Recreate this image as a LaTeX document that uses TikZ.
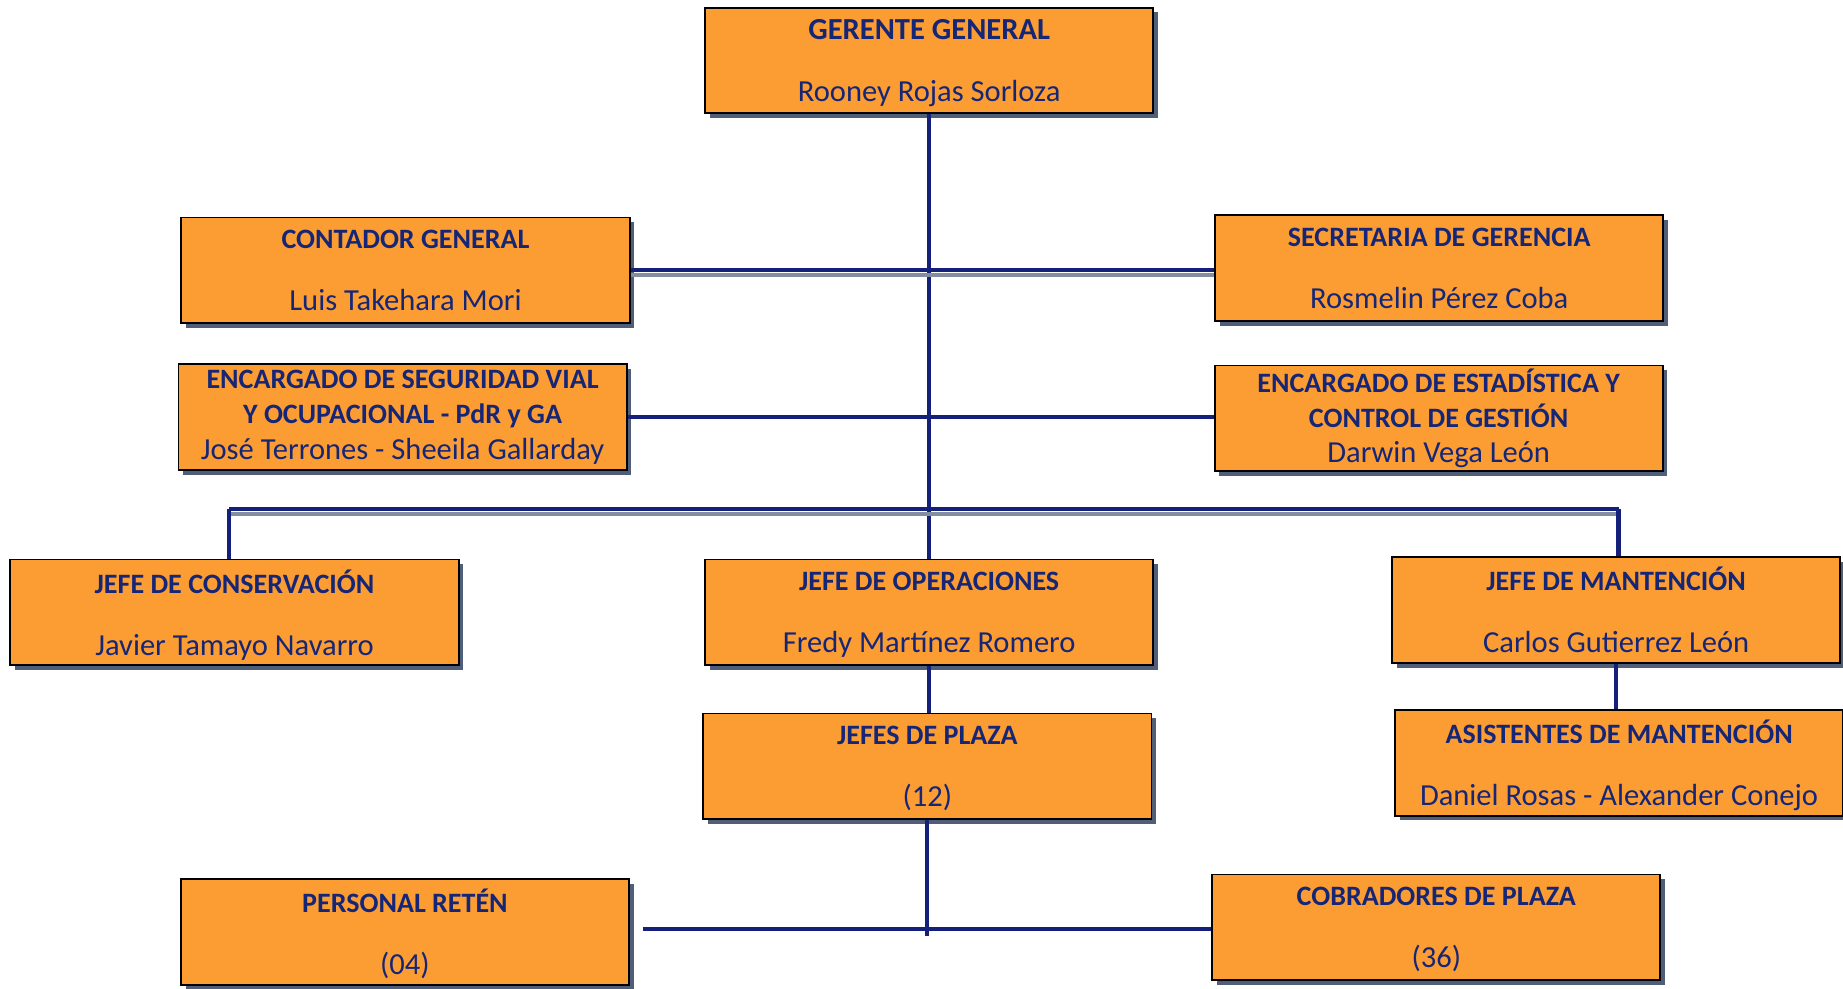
\documentclass[tikz,border=0pt]{standalone}
\usepackage{fontspec}
\setmainfont{Carlito}
\usetikzlibrary{shadows}

\definecolor{naranja}{RGB}{252,157,51}
\definecolor{azultexto}{RGB}{22,38,118}
\definecolor{azullinea}{RGB}{20,32,122}
\definecolor{sombra}{RGB}{48,66,98}

\tikzset{every picture/.style={line width=0.75pt}}
\tikzset{
  cargo/.style={draw=black, line width=1.2pt, fill=naranja, text=azultexto, align=center,
    minimum width=286pt, minimum height=67.5pt, inner sep=0pt,
    font=\fontsize{19.5}{22.5}\selectfont,
    drop shadow={shadow xshift=3pt, shadow yshift=-3pt, fill=sombra, opacity=0.85}},
  enlace/.style={draw=azullinea, line width=2.6pt},
  enlacesombra/.style={enlace, preaction={draw=sombra!60, line width=2.6pt, transform canvas={yshift=-3pt}}},
}
\newcommand{\titulo}[1]{{\fontsize{17.9}{22.5}\selectfont\bfseries #1}}
\newcommand{\dosl}[2]{\titulo{#1}\\[17pt]\raisebox{0pt}[\height][0pt]{#2}}
\newcommand{\tresl}[3]{\titulo{#1}\\\titulo{#2}\\#3}

\begin{document}
\begin{tikzpicture}[x=0.75pt,y=0.75pt,yscale=-1,xscale=1]
\useasboundingbox (0,0) rectangle (1568,841);

% Text Node
\draw (790.5,51.5) node [cargo] (gerente) {\textbf{GERENTE GENERAL}\\[17pt]\raisebox{0pt}[\height][0pt]{Rooney Rojas Sorloza}};
% Text Node
\draw (345,230) node [cargo] (contador) {\dosl{CONTADOR GENERAL}{Luis Takehara Mori}};
% Text Node
\draw (1224.5,228) node [cargo] (secretaria) {\dosl{SECRETARIA DE GERENCIA}{Rosmelin Pérez Coba}};
% Text Node
\draw (342.5,355) node [cargo] (seguridad) {\tresl{ENCARGADO DE SEGURIDAD VIAL}{Y OCUPACIONAL - PdR y GA}{José Terrones - Sheeila Gallarday}};
% Text Node
\draw (1224,356) node [cargo] (estadistica) {\tresl{ENCARGADO DE ESTADÍSTICA Y}{CONTROL DE GESTIÓN}{Darwin Vega León}};
% Text Node
\draw (199.5,521) node [cargo] (conservacion) {\dosl{JEFE DE CONSERVACIÓN}{Javier Tamayo Navarro}};
% Text Node
\draw (790.5,521) node [cargo] (operaciones) {\dosl{JEFE DE OPERACIONES}{Fredy Martínez Romero}};
% Text Node
\draw (1375,519) node [cargo] (mantencion) {\dosl{JEFE DE MANTENCIÓN}{Carlos Gutierrez León}};
% Text Node
\draw (789,652) node [cargo] (plaza) {\dosl{JEFES DE PLAZA}{(12)}};
% Text Node
\draw (1377.5,649) node [cargo] (asistentes) {\dosl{ASISTENTES DE MANTENCIÓN}{Daniel Rosas - Alexander Conejo}};
% Text Node
\draw (344.5,793) node [cargo] (reten) {\dosl{PERSONAL RETÉN}{(04)}};
% Text Node
\draw (1222,789) node [cargo] (cobradores) {\dosl{COBRADORES DE PLAZA}{(36)}};

\coordinate (busizq) at (195,433);
\coordinate (busder) at (1377,433);
\coordinate (busbajo) at (790,790);
\coordinate (busbajofin) at (790,796);

%Straight Lines
\draw [enlace] (gerente.south) -- (operaciones.north);
%Straight Lines
\draw [enlacesombra] (contador.east) -- (contador.east -| secretaria.west);
%Straight Lines
\draw [enlace] (seguridad.east) -- (seguridad.east -| estadistica.west);
%Straight Lines
\draw [enlacesombra] (busizq) -- (busder);
%Straight Lines
\draw [enlace] (busizq) -- (busizq |- conservacion.north);
%Straight Lines
\draw [enlace] (busder) -- (busder |- mantencion.north);
%Straight Lines
\draw [enlace] (operaciones.south) -- (operaciones.south |- plaza.north);
%Straight Lines
\draw [enlace] (mantencion.south) -- (mantencion.south |- asistentes.north);
%Straight Lines
\draw [enlace] (plaza.south) -- (plaza.south |- busbajofin);
%Straight Lines
\draw [enlace, shorten <=8pt] (busbajo -| reten.east) -- (busbajo -| cobradores.west);

\end{tikzpicture}
\end{document}
